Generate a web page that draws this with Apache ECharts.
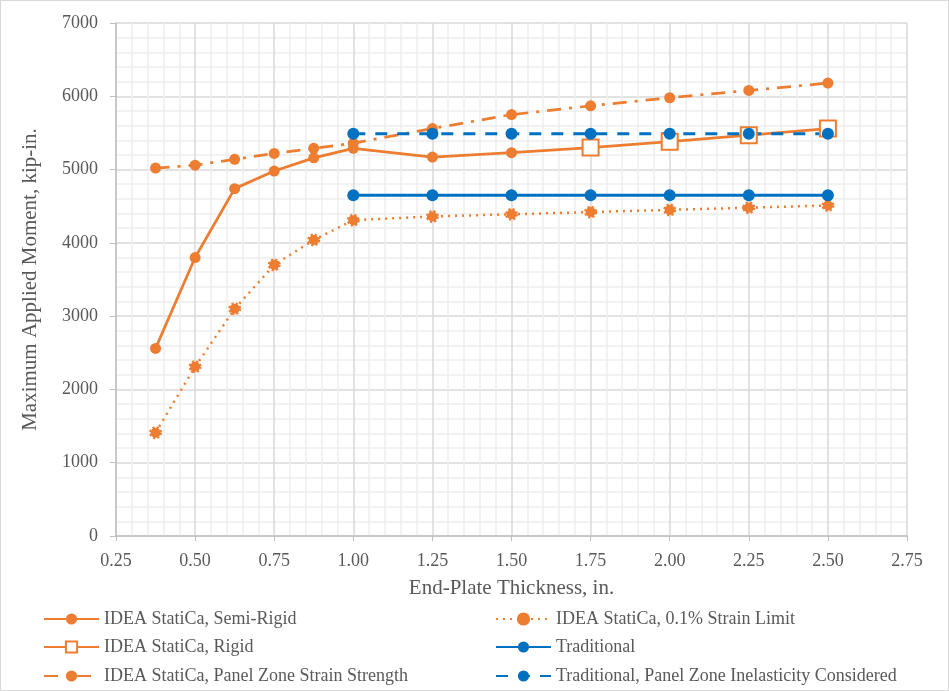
<!DOCTYPE html>
<html><head><meta charset="utf-8">
<script src="https://cdn.jsdelivr.net/npm/echarts@6/dist/echarts.min.js"></script>
<style>
html,body{margin:0;padding:0;background:#fff;}
#c{width:949px;height:691px;box-sizing:border-box;border:1px solid #d9d9d9;}
</style></head><body>
<div id="c"></div>
<script>
const xSemiRigid = [0.375, 0.5, 0.625, 0.75, 0.875, 1.0, 1.25, 1.5];
const ySemiRigid = [2560, 3800, 4740, 4980, 5160, 5290, 5170, 5230];
const xRigid = [1.5, 1.75, 2.0, 2.25, 2.5];
const yRigid = [5230, 5300, 5380, 5470, 5560];
const xStrain = [0.375, 0.5, 0.625, 0.75, 0.875, 1.0, 1.25, 1.5, 1.75, 2.0, 2.25, 2.5];
const yStrain = [1410, 2310, 3100, 3700, 4040, 4310, 4360, 4390, 4420, 4450, 4480, 4510];
const xPanel = [0.375, 0.5, 0.625, 0.75, 0.875, 1.0, 1.25, 1.5, 1.75, 2.0, 2.25, 2.5];
const yPanel = [5020, 5060, 5140, 5220, 5290, 5360, 5560, 5750, 5870, 5980, 6080, 6180];
const xTrad = [1.0, 1.25, 1.5, 1.75, 2.0, 2.25, 2.5];
const yTrad = [4650, 4650, 4650, 4650, 4650, 4650, 4650];
const yTradPZ = [5490, 5490, 5490, 5490, 5490, 5490, 5490];
const names = [
  'IDEA StatiCa, Semi-Rigid',
  'IDEA StatiCa, 0.1% Strain Limit',
  'IDEA StatiCa, Rigid',
  'Traditional',
  'IDEA StatiCa, Panel Zone Strain Strength',
  'Traditional, Panel Zone Inelasticity Considered'
];
const ORANGE = '#ED7D31', BLUE = '#0070C0';
const FONT = "'Liberation Serif', serif";
const zip = (xs, ys) => xs.map((x, i) => [x, ys[i]]);

const legendPos = [
  [37, 604], [489, 604],
  [37, 632], [489, 632],
  [37, 661], [489, 661]
];
const legends = names.map((n, i) => ({
  left: legendPos[i][0], top: legendPos[i][1],
  itemWidth: 55, itemHeight: 14, itemGap: 0,
  textStyle: {fontFamily: FONT, fontSize: 18, color: '#595959'},
  data: [n]
}));

const chart = echarts.init(document.getElementById('c'));
const rigidData = zip(xRigid, yRigid).map((p, i) => i === 0 ? {value: p, symbol: 'none'} : {value: p});
chart.setOption({
  animation: false,
  textStyle: {fontFamily: FONT},
  grid: {left: 115, right: 41, top: 22, bottom: 154},
  xAxis: {
    type: 'value', min: 0.25, max: 2.75, interval: 0.25,
    name: 'End-Plate Thickness, in.', nameLocation: 'middle', nameGap: 42,
    nameTextStyle: {fontFamily: FONT, fontSize: 21, color: '#595959'},
    axisLine: {lineStyle: {color: '#bfbfbf', width: 1.5}},
    axisTick: {show: true, length: 5, lineStyle: {color: '#bfbfbf'}},
    axisLabel: {fontFamily: FONT, fontSize: 18, color: '#595959', margin: 16, formatter: v => v.toFixed(2)},
    splitLine: {show: true, lineStyle: {color: '#d9d9d9', width: 1.5}},
    minorTick: {show: false, splitNumber: 5},
    minorSplitLine: {show: true, lineStyle: {color: '#eeeeee', width: 1.5}}
  },
  yAxis: {
    type: 'value', min: 0, max: 7000, interval: 1000,
    name: 'Maximum Applied Moment, kip-in.', nameLocation: 'middle', nameGap: 75,
    nameTextStyle: {fontFamily: FONT, fontSize: 21, color: '#595959'},
    axisLine: {show: true, lineStyle: {color: '#bfbfbf', width: 1.5}},
    axisTick: {show: true, length: 6, lineStyle: {color: '#bfbfbf'}},
    axisLabel: {fontFamily: FONT, fontSize: 18, color: '#595959', margin: 18, formatter: v => String(v)},
    splitLine: {show: true, lineStyle: {color: '#d9d9d9', width: 1.5}},
    minorTick: {show: false, splitNumber: 5},
    minorSplitLine: {show: true, lineStyle: {color: '#eeeeee', width: 1.5}}
  },
  legend: legends,
  series: [
    {name: names[0], type: 'line', data: zip(xSemiRigid, ySemiRigid), symbol: 'circle', symbolSize: 11,
     lineStyle: {color: ORANGE, width: 2.75}, itemStyle: {color: ORANGE}},
    {name: names[1], type: 'line', data: zip(xStrain, yStrain), symbol: 'circle', symbolSize: 10,
     lineStyle: {color: ORANGE, width: 2.5, type: [2, 5]},
     itemStyle: {color: ORANGE, borderColor: ORANGE, borderWidth: 3, borderType: [2, 2]}},
    {name: names[2], type: 'line', data: rigidData, symbol: 'rect', symbolSize: 16,
     lineStyle: {color: ORANGE, width: 2.75},
     itemStyle: {color: '#ffffff', borderColor: ORANGE, borderWidth: 2}},
    {name: names[3], type: 'line', data: zip(xTrad, yTrad), symbol: 'circle', symbolSize: 12,
     lineStyle: {color: BLUE, width: 3}, itemStyle: {color: BLUE}},
    {name: names[4], type: 'line', data: zip(xPanel, yPanel), symbol: 'circle', symbolSize: 11,
     lineStyle: {color: ORANGE, width: 2.75, type: [14, 8, 3, 8]}, itemStyle: {color: ORANGE}},
    {name: names[5], type: 'line', data: zip(xTrad, yTradPZ), symbol: 'circle', symbolSize: 12,
     lineStyle: {color: BLUE, width: 3, type: [12, 10]}, itemStyle: {color: BLUE}}
  ]
});
</script>
</body></html>
